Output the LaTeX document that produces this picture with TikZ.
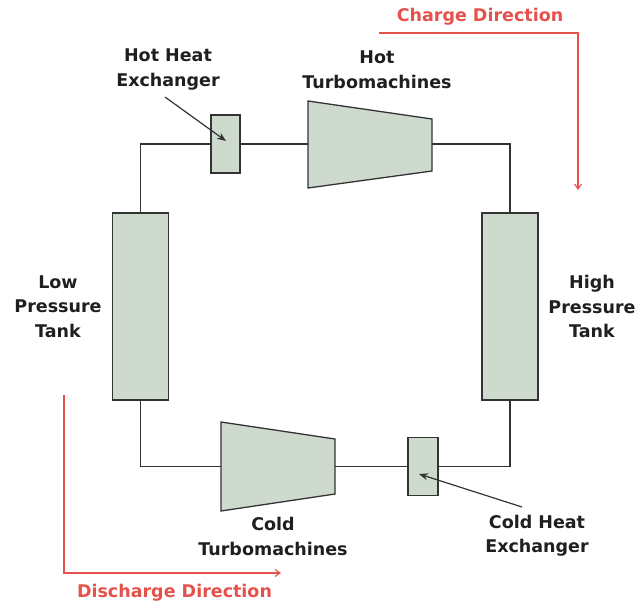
\documentclass[tikz,border=0pt]{standalone}
\usepackage{fontspec}
\setmainfont{DejaVu Sans}
\usetikzlibrary{arrows.meta}
\definecolor{boxfill}{HTML}{CDDACD}
\definecolor{linec}{HTML}{333333}
\definecolor{redc}{HTML}{E5524C}
\begin{document}
\begin{tikzpicture}[x=1pt,y=-1pt,
  unit/.style={draw=linec, fill=boxfill, line width=1.3pt, inner sep=0pt, minimum width=#1},
  pipe/.style={draw=linec, line width=1.3pt},
  lbl/.style={font=\fontsize{17.5}{24.5}\selectfont\bfseries, text=black!88, align=center, inner sep=0pt},
  rlbl/.style={font=\fontsize{17.5}{20}\selectfont\bfseries, text=redc, inner sep=0pt},
  redarrow/.style={draw=redc, line width=1.1pt, -{Straight Barb[length=5pt,width=7pt]}},
  pointer/.style={draw=linec, line width=1.2pt, -{Stealth[length=9pt,width=7pt]}}]
\useasboundingbox (0,0) rectangle (635,610);
% tanks and heat exchangers
\node[unit=56pt, minimum height=187pt] (lp) at (140.5,306.5) {};
\node[unit=56pt, minimum height=187pt] (hp) at (510,306.5) {};
\node[unit=29pt, minimum height=58pt] (hhx) at (225.5,144) {};
\node[unit=30pt, minimum height=58pt] (chx) at (423,466.5) {};
% turbomachines
\draw[draw=linec, fill=boxfill, line width=1.3pt] (308,101) -- (432,119) -- (432,171) -- (308,188) -- cycle;
\draw[draw=linec, fill=boxfill, line width=1.3pt] (221,422) -- (335,439) -- (335,494) -- (221,511) -- cycle;
\coordinate (htl) at (308,144);
\coordinate (htr) at (432,144);
\coordinate (ctl) at (221,466.5);
\coordinate (ctr) at (335,466.5);
% pipes
\draw[pipe] (lp.north) |- (hhx.west);
\draw[pipe] (hhx.east) -- (htl);
\draw[pipe] (htr) -| (hp.north);
\draw[pipe] (hp.south) |- (chx.east);
\draw[pipe] (chx.west) -- (ctr);
\draw[pipe] (ctl) -| (lp.south);
% labels
\node[lbl] (hhxl) at (168,69.5) {Hot Heat\\Exchanger};
\node[lbl] (htl2) at (377,69.5) {Hot\\Turbomachines};
\node[lbl] (lpl) at (58,306.5) {Low\\Pressure\\Tank};
\node[lbl] (hpl) at (592,306.5) {High\\Pressure\\Tank};
\node[lbl] (ctl2) at (273,536.5) {Cold\\Turbomachines};
\node[lbl] (chxl) at (537,535.5) {Cold Heat\\Exchanger};
\coordinate (hp1) at (165,97);
\coordinate (hp2) at (226,141);
\coordinate (cp1) at (522,507);
\coordinate (cp2) at (419,474);
\draw[pointer] (hp1) -- (hp2);
\draw[pointer] (cp1) -- (cp2);
% direction arrows
\node[rlbl] (chg) at (480,17) {Charge Direction};
\node[rlbl] (dis) at (174.5,593) {Discharge Direction};
\coordinate (c1) at (379,33);
\coordinate (c2) at (578,190);
\coordinate (d1) at (64,395);
\coordinate (d2) at (281,573);
\draw[redarrow] (c1) -| (c2);
\draw[redarrow] (d1) |- (d2);
\end{tikzpicture}
\end{document}
